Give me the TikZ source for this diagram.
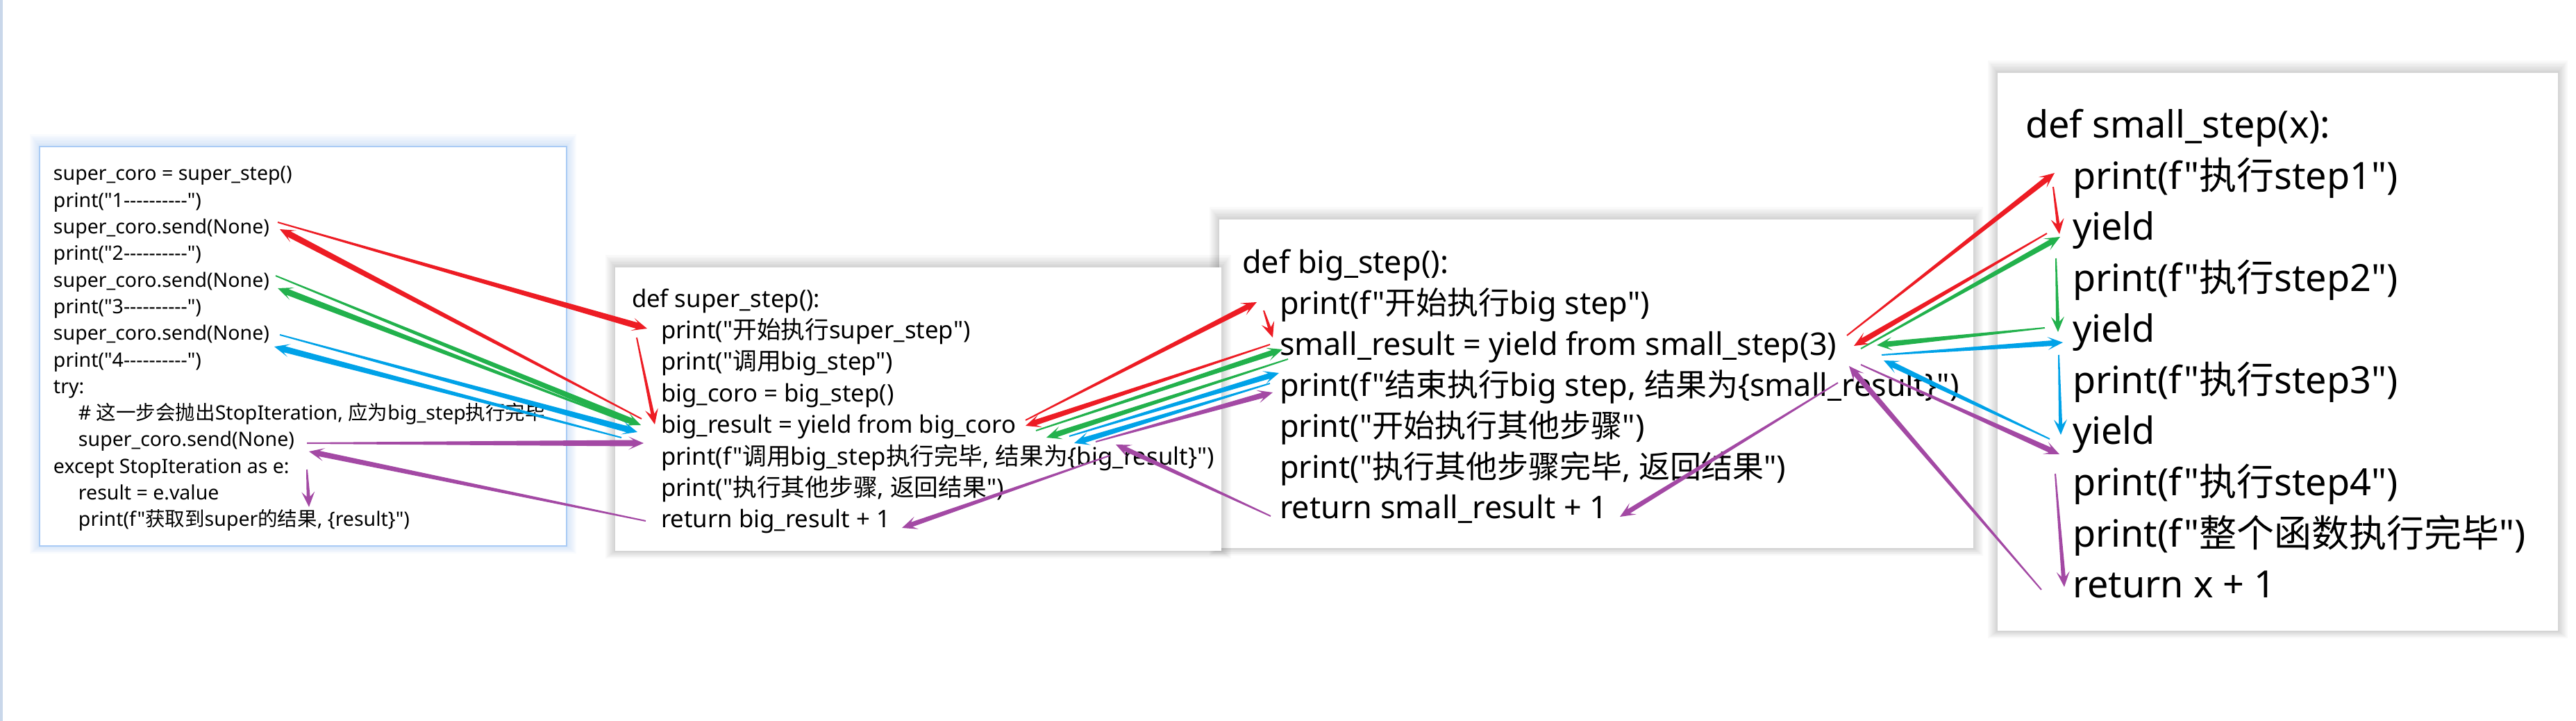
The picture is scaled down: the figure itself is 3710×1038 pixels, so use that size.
\documentclass[tikz,border=0pt]{standalone}
\usepackage{fontspec}
\newfontfamily\lat{Noto Sans}
\newfontfamily\cjkf{Noto Sans CJK SC}
\newcommand\zh[1]{{\cjkf #1}}
\usetikzlibrary{calc}
\definecolor{pred}{HTML}{ED1C24}
\definecolor{pgreen}{HTML}{22B14C}
\definecolor{pblue}{HTML}{00A2E8}
\definecolor{ppurple}{HTML}{A349A4}
\definecolor{glowblue}{HTML}{6FA8EE}
\definecolor{edgeblue}{HTML}{A9CBF5}
\definecolor{leftline}{HTML}{C9D7EA}
% tapered arrow: colour, tail, tip, shaft half width near head
\newcommand\tarr[4]{%
  \coordinate (tS) at ($(#3)!3pt!(#2)$);
  \coordinate (tW) at ($(#3)!4.4pt!(#2)$);
  \fill[#1] ($(#2)!0.2pt!90:(#3)$) -- ($(tS)!#4!90:(#3)$) -- ($(tW)!1.9pt!90:(#3)$) -- (#3)
    -- ($(tW)!1.9pt!-90:(#3)$) -- ($(tS)!#4!-90:(#3)$) -- ($(#2)!0.2pt!-90:(#3)$) -- cycle;
}
\begin{document}
\begin{tikzpicture}[x=0.2pt,y=-0.2pt,
  t1/.style={anchor=base west,inner sep=0pt,font=\lat\fontsize{5.7pt}{6.8pt}\selectfont},
  t2/.style={anchor=base west,inner sep=0pt,font=\lat\fontsize{6.95pt}{8.2pt}\selectfont},
  t3/.style={anchor=base west,inner sep=0pt,font=\lat\fontsize{9pt}{11pt}\selectfont},
  t4/.style={anchor=base west,inner sep=0pt,font=\lat\fontsize{10.8pt}{13pt}\selectfont},
  panel/.style={fill=white}]
\useasboundingbox (0,0) rectangle (3710,1038);
\fill[white] (0,0) rectangle (3710,1038);
\fill[leftline] (0,0) rectangle (4,1038);
% shadows
\foreach \k in {1,...,7}{
  \fill[black,opacity=0.022] ({1756-2*\k},{316-2.5*\k}) rectangle ({2842+2*\k},{789+1.5*\k});
  \fill[black,opacity=0.022] ({2877-2*\k},{105-2.5*\k}) rectangle ({3684+2*\k},{908+1.5*\k});
  \fill[glowblue,opacity=0.04] ({57-2*\k},{211-2.5*\k}) rectangle ({816+2*\k},{786+1.5*\k});
}
\fill[panel] (1756,316) rectangle (2842,789);
\fill[panel] (2877,105) rectangle (3684,908);
\fill[panel,draw=edgeblue,line width=0.3pt] (57,211) rectangle (816,786);
\foreach \k in {1,...,7}{
  \fill[black,opacity=0.022] ({886-2*\k},{385-2.5*\k}) rectangle ({1759+2*\k},{793+1.5*\k});
}
\fill[panel] (886,385) rectangle (1759,793);

% panel 1
\node[t1] (a1) at (76,260) {super\_coro = super\_step()};
\node[t1] (a2) at (76,298.3) {print("1----------")};
\node[t1] (a3) at (76,336.6) {super\_coro.send(None)};
\node[t1] (a4) at (76,374.9) {print("2----------")};
\node[t1] (a5) at (76,413.2) {super\_coro.send(None)};
\node[t1] (a6) at (76,451.5) {print("3----------")};
\node[t1] (a7) at (76,489.8) {super\_coro.send(None)};
\node[t1] (a8) at (76,528.1) {print("4----------")};
\node[t1] (a9) at (76,566.4) {try:};
\node[t1] (a10) at (112,604.7) {\# \zh{这一步会抛出}StopIteration, \zh{应为}big\_step\zh{执行完毕}};
\node[t1] (a11) at (112,643) {super\_coro.send(None)};
\node[t1] (a12) at (76,681.3) {except StopIteration as e:};
\node[t1] (a13) at (112,719.6) {result = e.value};
\node[t1] (a14) at (112,757.9) {print(f"\zh{获取到}super\zh{的结果}, \{result\}")};

% panel 2
\node[t2] (b1) at (909,442) {def super\_step():};
\node[t2] (b2) at (951,487.4) {print("\zh{开始执行}super\_step")};
\node[t2] (b3) at (951,532.8) {print("\zh{调用}big\_step")};
\node[t2] (b4) at (951,578.2) {big\_coro = big\_step()};
\node[t2] (b5) at (951,623.6) {big\_result = yield from big\_coro};
\node[t2] (b6) at (951,669) {print(f"\zh{调用}big\_step\zh{执行完毕}, \zh{结果为}\{big\_result\}")};
\node[t2] (b7) at (951,714.4) {print("\zh{执行其他步骤}, \zh{返回结果}")};
\node[t2] (b8) at (951,759.8) {return big\_result + 1};

% panel 3
\node[t3] (c1) at (1788,393.5) {def big\_step():};
\node[t3] (c2) at (1842,452.4) {print(f"\zh{开始执行}big step")};
\node[t3] (c3) at (1842,511.3) {small\_result = yield from small\_step(3)};
\node[t3] (c4) at (1842,570.2) {print(f"\zh{结束执行}big step, \zh{结果为}\{small\_result\}")};
\node[t3] (c5) at (1842,629.1) {print("\zh{开始执行其他步骤}")};
\node[t3] (c6) at (1842,688) {print("\zh{执行其他步骤完毕}, \zh{返回结果}")};
\node[t3] (c7) at (1842,746.9) {return small\_result + 1};

% panel 4
\node[t4] (d1) at (2916,199) {def small\_step(x):};
\node[t4] (d2) at (2984,272.5) {print(f"\zh{执行}step1")};
\node[t4] (d3) at (2984,346) {yield};
\node[t4] (d4) at (2984,419.5) {print(f"\zh{执行}step2")};
\node[t4] (d5) at (2984,493) {yield};
\node[t4] (d6) at (2984,566.5) {print(f"\zh{执行}step3")};
\node[t4] (d7) at (2984,640) {yield};
\node[t4] (d8) at (2984,713.5) {print(f"\zh{执行}step4")};
\node[t4] (d9) at (2984,787) {print(f"\zh{整个函数执行完毕}")};
\node[t4] (d10) at (2984,860.5) {return x + 1};

% connector end points
\coordinate (r1a) at (400,320);  \coordinate (r1b) at (932,473);
\coordinate (r2a) at (917,486);  \coordinate (r2b) at (943,611);
\coordinate (r3a) at (924,603);  \coordinate (r3b) at (403,330);
\coordinate (g1a) at (397,397);  \coordinate (g1b) at (923,612);
\coordinate (g2a) at (903,608);  \coordinate (g2b) at (400,415);
\coordinate (u1a) at (403,482);  \coordinate (u1b) at (918,622);
\coordinate (u2a) at (895,630);  \coordinate (u2b) at (395,499);
\coordinate (p1a) at (442,638);  \coordinate (p1b) at (927,638);
\coordinate (p2a) at (930,750);  \coordinate (p2b) at (445,650);
\coordinate (p3a) at (442,676);  \coordinate (p3b) at (445,730);

\coordinate (r4a) at (1477,605); \coordinate (r4b) at (1810,435);
\coordinate (r5a) at (1820,447); \coordinate (r5b) at (1833,486);
\coordinate (r6a) at (1829,496); \coordinate (r6b) at (1477,613);
\coordinate (g3a) at (1492,620); \coordinate (g3b) at (1847,503);
\coordinate (g4a) at (1855,517); \coordinate (g4b) at (1507,630);
\coordinate (u3a) at (1540,628); \coordinate (u3b) at (1842,537);
\coordinate (u4a) at (1829,552); \coordinate (u4b) at (1547,638);
\coordinate (p4a) at (1578,636); \coordinate (p4b) at (1833,565);
\coordinate (p5a) at (1830,743); \coordinate (p5b) at (1607,640);
\coordinate (p6a) at (1598,656); \coordinate (p6b) at (1299,760);

\coordinate (r7a) at (2660,483); \coordinate (r7b) at (2959,249);
\coordinate (r8a) at (2957,269); \coordinate (r8b) at (2966,337);
\coordinate (r9a) at (2948,336); \coordinate (r9b) at (2670,498);
\coordinate (g5a) at (2680,502); \coordinate (g5b) at (2967,341);
\coordinate (g6a) at (2961,372); \coordinate (g6b) at (2964,478);
\coordinate (g7a) at (2945,472); \coordinate (g7b) at (2703,497);
\coordinate (u5a) at (2710,511); \coordinate (u5b) at (2971,493);
\coordinate (u6a) at (2965,511); \coordinate (u6b) at (2968,626);
\coordinate (u7a) at (2952,632); \coordinate (u7b) at (2713,519);
\coordinate (p7a) at (2680,525); \coordinate (p7b) at (2966,654);
\coordinate (p8a) at (2960,682); \coordinate (p8b) at (2973,845);
\coordinate (p9a) at (2940,849); \coordinate (p9b) at (2663,527);
\coordinate (p10a) at (2647,551); \coordinate (p10b) at (2333,744);

% arrows
\tarr{pred}{r1a}{r1b}{0.9pt}
\tarr{pred}{r2a}{r2b}{0.5pt}
\tarr{pred}{r3a}{r3b}{0.9pt}
\tarr{pgreen}{g1a}{g1b}{0.9pt}
\tarr{pgreen}{g2a}{g2b}{0.9pt}
\tarr{pblue}{u1a}{u1b}{0.9pt}
\tarr{pblue}{u2a}{u2b}{0.9pt}
\tarr{ppurple}{p1a}{p1b}{0.9pt}
\tarr{ppurple}{p2a}{p2b}{0.8pt}
\tarr{ppurple}{p3a}{p3b}{0.5pt}

\tarr{pred}{r4a}{r4b}{0.8pt}
\tarr{pred}{r5a}{r5b}{0.45pt}
\tarr{pred}{r6a}{r6b}{0.8pt}
\tarr{pgreen}{g3a}{g3b}{0.8pt}
\tarr{pgreen}{g4a}{g4b}{0.8pt}
\tarr{pblue}{u3a}{u3b}{0.8pt}
\tarr{pblue}{u4a}{u4b}{0.8pt}
\tarr{ppurple}{p4a}{p4b}{0.8pt}
\tarr{ppurple}{p5a}{p5b}{0.7pt}
\tarr{ppurple}{p6a}{p6b}{0.7pt}

\tarr{pred}{r7a}{r7b}{0.8pt}
\tarr{pred}{r8a}{r8b}{0.45pt}
\tarr{pred}{r9a}{r9b}{0.8pt}
\tarr{pgreen}{g5a}{g5b}{0.8pt}
\tarr{pgreen}{g6a}{g6b}{0.5pt}
\tarr{pgreen}{g7a}{g7b}{0.8pt}
\tarr{pblue}{u5a}{u5b}{0.8pt}
\tarr{pblue}{u6a}{u6b}{0.5pt}
\tarr{pblue}{u7a}{u7b}{0.8pt}
\tarr{ppurple}{p7a}{p7b}{0.8pt}
\tarr{ppurple}{p8a}{p8b}{0.6pt}
\tarr{ppurple}{p9a}{p9b}{0.8pt}
\tarr{ppurple}{p10a}{p10b}{0.7pt}
\end{tikzpicture}
\end{document}
